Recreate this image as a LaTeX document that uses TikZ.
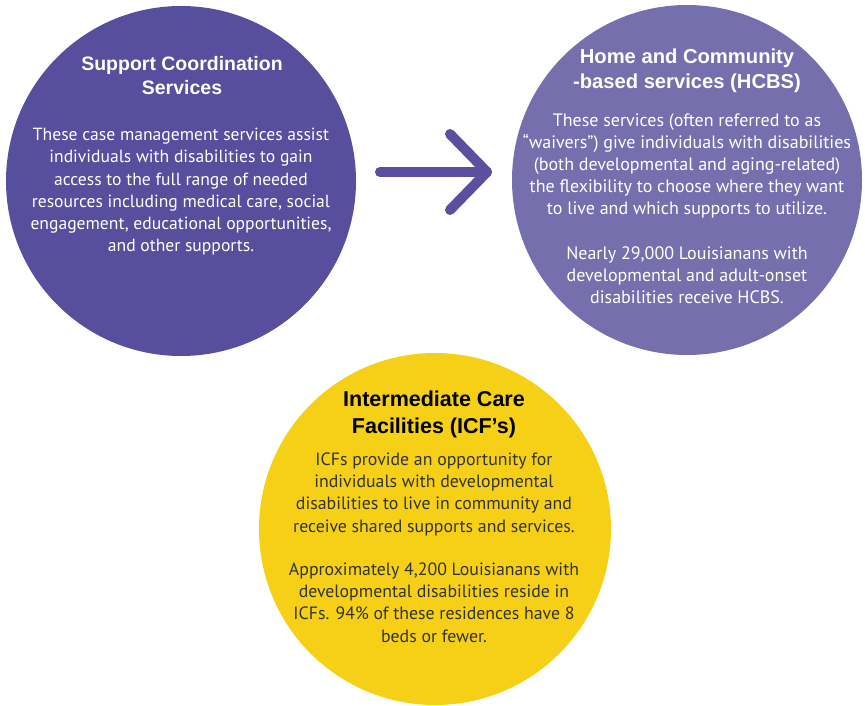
\documentclass[tikz,border=0pt]{standalone}
\usepackage{fontspec}
\setmainfont{PT Sans}
\newfontfamily\headfont{Liberation Sans}
\usetikzlibrary{calc}
\definecolor{darkpurple}{HTML}{574E9D}
\definecolor{lightpurple}{HTML}{766FAE}
\definecolor{sunyellow}{HTML}{F6D016}
\definecolor{arrowpurple}{HTML}{5A509F}
\definecolor{bodygray}{HTML}{333333}
\tikzset{
  bubble/.style={circle, inner sep=0pt, minimum size=#1},
  headtext/.style 2 args={anchor=base, align=center, inner sep=0pt, font=\headfont\bfseries\fontsize{#1}{#2}\selectfont},
  bodytext/.style={anchor=base, align=center, inner sep=0pt, font=\fontsize{#1}{22.2}\selectfont},
  pointer/.style={draw=arrowpurple, line width=10pt, line cap=round, line join=round}
}
\begin{document}
\begin{tikzpicture}[x=1pt,y=-1pt]
\useasboundingbox (0,0) rectangle (865,705);
\node[bubble=350pt, fill=darkpurple] (sc) at (181,181) {};
\node[bubble=350pt, fill=lightpurple] (hcbs) at (687,180) {};
\node[bubble=352pt, fill=sunyellow] (icf) at (435,529) {};

\coordinate (aS) at (380,172);
\coordinate (aE) at (487,172);
\draw[pointer] (aS) -- (aE);
\draw[pointer] ($(aE)+(-37,-38)$) -- (aE) -- ($(aE)+(-37,38)$);

\node[headtext={19.5}{23.5}, text=white] (sct) at (182,94) {Support Coordination\\Services};
\node[bodytext=17.6, text=white] (scb) at (181,251.7) {These case management services assist\\individuals with disabilities to gain\\access to the full range of needed\\resources including medical care, social\\engagement, educational opportunities,\\and other supports.};

\node[headtext={20.2}{25}, text=white] (ht) at (687,88) {Home and Community\\-based services (HCBS)};
\node[bodytext=18, text=white] (hb1) at (687,214.8) {These services (often referred to as\\“waivers”) give individuals with disabilities\\(both developmental and aging-related)\\the flexibility to choose where they want\\to live and which supports to utilize.};
\node[bodytext=18, text=white] (hb2) at (687,303.7) {Nearly 29,000 Louisianans with\\developmental and adult-onset\\disabilities receive HCBS.};

\node[headtext={21.5}{26.6}, text=black] (it) at (434,433.3) {Intermediate Care\\Facilities (ICF’s)};
\node[bodytext=17.8, text=bodygray] (ib1) at (434,532) {ICFs provide an opportunity for\\individuals with developmental\\disabilities to live in community and\\receive shared supports and services.};
\node[bodytext=17.8, text=bodygray] (ib2) at (434,642) {Approximately 4,200 Louisianans with\\developmental disabilities reside in\\ICFs. 94\% of these residences have 8\\beds or fewer.};
\end{tikzpicture}
\end{document}
